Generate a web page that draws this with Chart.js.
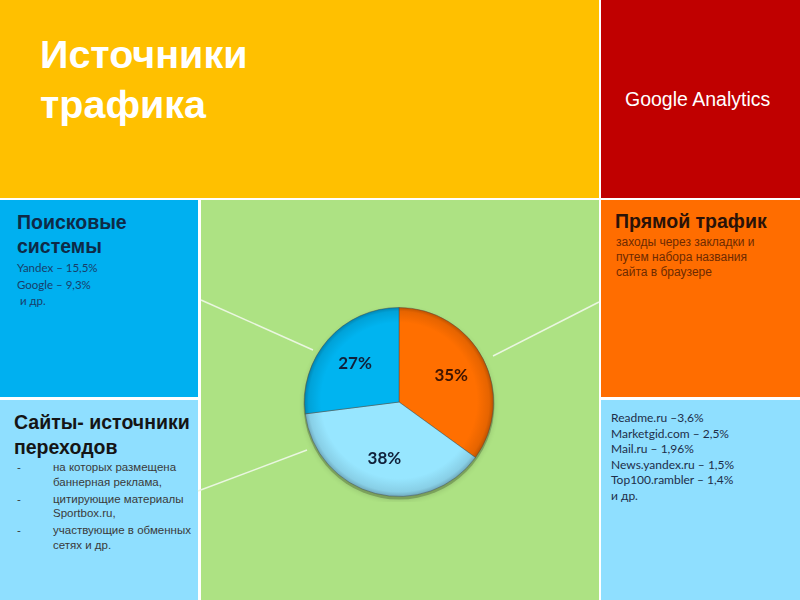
<!DOCTYPE html>
<html><head><meta charset="utf-8">
<script src="https://cdn.jsdelivr.net/npm/chart.js@4.4.1/dist/chart.umd.min.js"></script>
<style>
html,body{margin:0;padding:0;background:#fff;}
#page{position:relative;width:800px;height:600px;overflow:hidden;background:#fff;font-family:"Liberation Sans",Arial,sans-serif;}
.p{position:absolute;}
.t{position:absolute;white-space:nowrap;}
.cal{font-family:Lato,"Open Sans",sans-serif;}
</style></head>
<body>
<div id="page">
  <div class="p" style="left:0;top:0;width:599px;height:198px;background:#FFC000"></div>
  <div class="p" style="left:601px;top:0;width:199px;height:198px;background:#C00000"></div>
  <div class="p" style="left:0;top:200px;width:198px;height:197px;background:#00B0F0"></div>
  <div class="p" style="left:0;top:400px;width:198px;height:200px;background:#8FDFFF"></div>
  <div class="p" style="left:201px;top:200px;width:398px;height:400px;background:#ADE283"></div>
  <div class="p" style="left:601px;top:200px;width:199px;height:197px;background:#FF6D00"></div>
  <div class="p" style="left:601px;top:400px;width:199px;height:200px;background:#8FDFFF"></div>

  <svg class="p" style="left:0;top:0" width="800" height="600">
    <line x1="201" y1="300" x2="313" y2="350" stroke="#EAF6E0" stroke-width="1.5"/>
    <line x1="599" y1="302" x2="493" y2="356" stroke="#EAF6E0" stroke-width="1.5"/>
    <line x1="198" y1="491" x2="307" y2="450" stroke="#EAF6E0" stroke-width="1.5"/>
  </svg>

  <div class="t" id="title" style="left:40px;top:29px;color:#fff;font-weight:bold;font-size:39.5px;line-height:50px;"></div>
  <div class="t" id="ga" style="left:625px;top:88px;color:#fff;font-size:19.5px;"></div>

  <div class="t" id="lt" style="left:17px;top:210px;color:#0E2A47;font-weight:bold;font-size:19.5px;line-height:24px;"></div>
  <div class="t cal" id="ltb" style="left:17px;top:260px;color:#183E6B;font-size:11.5px;line-height:16.5px;white-space:pre;"></div>

  <div class="t" id="lb" style="left:14px;top:410px;color:#151515;font-weight:bold;font-size:19.5px;line-height:25px;"></div>
  <div class="p" id="lbb" style="left:14px;top:460px;color:#3a3a3a;font-size:11.5px;line-height:14.8px;width:185px;"></div>

  <div class="t" id="rt" style="left:615px;top:210px;color:#2A1208;font-weight:bold;font-size:19.5px;line-height:22px;"></div>
  <div class="t" id="rtb" style="left:616px;top:235px;color:#6E2A00;font-size:12px;line-height:15px;"></div>

  <div class="t cal" id="rb" style="left:611px;top:410px;color:#1E2E4A;font-size:12px;line-height:15.5px;"></div>

  <div class="p" style="left:299px;top:302px;width:200px;height:200px;">
    <canvas id="c" width="200" height="200"></canvas>
  </div>
</div>
<script>
// ---- data ----
const categories = ["Прямой трафик", "Сайты- источники переходов", "Поисковые системы"];
const shares = [35, 38, 27];
const sliceColors = ["#FF6F00", "#97E6FF", "#00B4F0"];
const labelColors = ["#3E1400", "#10203A", "#10203A"];

const titleLines = ["Источники", "трафика"];
const brand = "Google Analytics";
const searchTitle = ["Поисковые", "системы"];
const searchItems = ["Yandex – 15,5%", "Google – 9,3%", " и др."];
const sitesTitle = ["Сайты- источники", "переходов"];
const sitesItems = ["на которых размещена баннерная реклама,", "цитирующие материалы Sportbox.ru,", "участвующие в обменных сетях и др."];
const directTitle = "Прямой трафик";
const directText = ["заходы через закладки и", "путем набора названия", "сайта в браузере"];
const referrers = ["Readme.ru –3,6%", "Marketgid.com – 2,5%", "Mail.ru – 1,96%", "News.yandex.ru – 1,5%", "Top100.rambler – 1,4%", "и др."];

// ---- text ----
function setLines(id, arr){ const el=document.getElementById(id); el.innerHTML=''; arr.forEach((s,i)=>{ if(i) el.appendChild(document.createElement('br')); el.appendChild(document.createTextNode(s)); }); }
setLines('title', titleLines);
document.getElementById('ga').textContent = brand;
setLines('lt', searchTitle);
setLines('ltb', searchItems);
setLines('lb', sitesTitle);
(function(){
  const el=document.getElementById('lbb');
  sitesItems.forEach(s=>{
    const row=document.createElement('div'); row.style.position='relative'; row.style.paddingLeft='39px'; row.style.marginBottom='2px';
    const d=document.createElement('span'); d.textContent='-'; d.style.position='absolute'; d.style.left='3px'; d.style.top='0';
    row.appendChild(d); row.appendChild(document.createTextNode(s)); el.appendChild(row);
  });
})();
document.getElementById('rt').textContent = directTitle;
setLines('rtb', directText);
setLines('rb', referrers);

// ---- chart ----
function shade(hex, f){
  const n=parseInt(hex.slice(1),16); let r=n>>16,g=(n>>8)&255,b=n&255;
  r=Math.round(r*f); g=Math.round(g*f); b=Math.round(b*f);
  return `rgb(${r},${g},${b})`;
}
const pctLabels = {
  id:'pctLabels',
  afterDatasetsDraw(chart){
    const {ctx}=chart; const meta=chart.getDatasetMeta(0);
    ctx.save();
    ctx.font='bold 17px Lato, "Open Sans", sans-serif';
    ctx.textAlign='center'; ctx.textBaseline='middle';
    meta.data.forEach((arc,i)=>{
      const a=(arc.startAngle+arc.endAngle)/2; const rr=arc.outerRadius*0.62;
      ctx.fillStyle=labelColors[i];
      ctx.fillText(shares[i]+'%', arc.x+Math.cos(a)*rr, arc.y+Math.sin(a)*rr);
    });
    ctx.restore();
  }
};
const shadowPlugin = {
  id:'shadowPlugin',
  beforeDatasetsDraw(chart){
    const meta=chart.getDatasetMeta(0); const a=meta.data[0]; if(!a) return;
    const ctx=chart.ctx; ctx.save();
    ctx.beginPath(); ctx.arc(a.x, a.y+2, a.outerRadius+1, 0, Math.PI*2);
    ctx.shadowColor='rgba(0,0,0,0.35)'; ctx.shadowBlur=5; ctx.shadowOffsetY=1;
    ctx.fillStyle='rgba(60,80,40,0.35)'; ctx.fill(); ctx.restore();
  }
};
new Chart(document.getElementById('c'), {
  type:'pie',
  data:{ labels:categories, datasets:[{
    data:shares,
    backgroundColor(c){
      const chart=c.chart; const area=chart.chartArea; if(!area) return sliceColors[c.dataIndex];
      const cx=(area.left+area.right)/2, cy=(area.top+area.bottom)/2, r=Math.min(area.right-area.left, area.bottom-area.top)/2;
      const g=chart.ctx.createRadialGradient(cx,cy-8,0,cx,cy,r);
      const base=sliceColors[c.dataIndex];
      g.addColorStop(0, base); g.addColorStop(0.82, base); g.addColorStop(0.95, shade(base,0.9)); g.addColorStop(1, shade(base,0.72));
      return g;
    },
    borderColor:'rgba(70,70,70,0.45)', borderWidth:1
  }]},
  options:{
    responsive:false, animation:false, rotation:0,
    layout:{padding:5},
    plugins:{legend:{display:false}, tooltip:{enabled:false}}
  },
  plugins:[shadowPlugin, pctLabels]
});
</script>
</body></html>
